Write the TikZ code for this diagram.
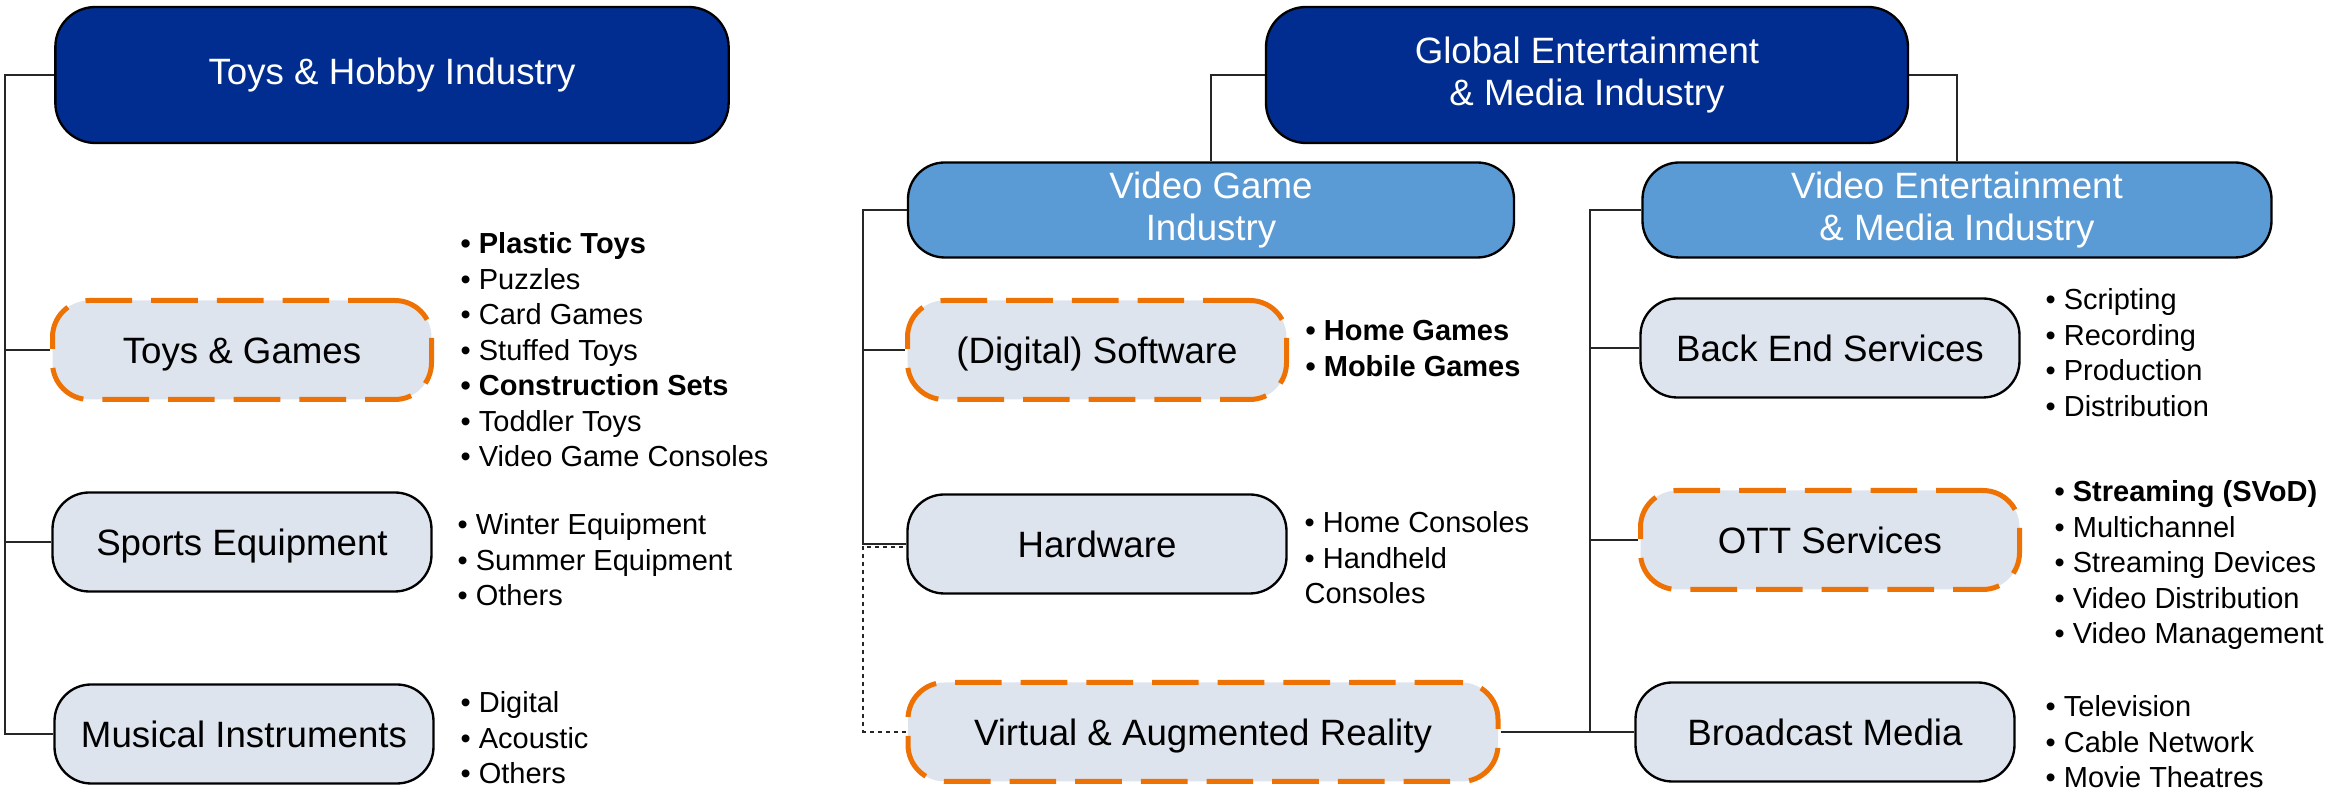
\documentclass[tikz,border=0pt]{standalone}
\usepackage{fontspec}
\setmainfont{Liberation Sans}
\definecolor{navyblue}{HTML}{002D8F}
\definecolor{skyblue}{HTML}{5B9BD5}
\definecolor{paleblue}{HTML}{DEE4EE}
\definecolor{hotorange}{HTML}{EE7203}
\newcommand\boxfont{\fontsize{11}{12.6}\selectfont}
\newcommand\listfont{\fontsize{8.7}{10.65}\selectfont}
\tikzset{
  topbox/.style={draw=black, line width=0.7pt, fill=navyblue, text=white, rounded corners=12pt,
    minimum height=40.8pt, inner sep=0pt, align=center, font=\boxfont},
  midbox/.style={topbox, fill=skyblue, minimum height=28.5pt, rounded corners=11pt},
  catbox/.style={draw=black, line width=0.7pt, fill=paleblue, text=black, rounded corners=11pt,
    minimum width=113.7pt, minimum height=29.7pt, inner sep=0pt, text height=10pt, text depth=2.1pt,
    font=\boxfont},
  hotbox/.style={catbox, draw=hotorange, line width=1.5pt, dash pattern=on 14pt off 5.7pt},
  items/.style={anchor=north west, align=left, inner sep=0pt, font=\listfont},
  link/.style={draw=black!85, line width=0.5pt}
}
\begin{document}
\begin{tikzpicture}[x=0.3pt,y=-0.3pt]
	\useasboundingbox (0,0) rectangle (2330,793);
	% industries
	\node[topbox, minimum width=202pt] (hobby) at (392,75) {Toys \& Hobby Industry};
	\node[topbox, minimum width=192.6pt] (global) at (1587,75) {Global Entertainment\\\& Media Industry};
	\node[midbox, minimum width=181.8pt] (vgame) at (1211,210) {Video Game\\Industry};
	\node[midbox, minimum width=188.7pt] (vent) at (1957,210) {Video Entertainment\\\& Media Industry};
	% segments
	\node[hotbox] (toysgames) at (242,350) {Toys \& Games};
	\node[catbox] (sports) at (242,542) {Sports Equipment};
	\node[catbox] (musical) at (244,734) {Musical Instruments};
	\node[hotbox] (software) at (1097,350) {(Digital) Software};
	\node[catbox] (hardware) at (1097,544) {Hardware};
	\node[hotbox, minimum width=177pt] (vr) at (1203,732) {Virtual \& Augmented Reality};
	\node[catbox] (backend) at (1830,348) {Back End Services};
	\node[hotbox] (ott) at (1830,540) {OTT Services};
	\node[catbox] (broadcast) at (1825,732) {Broadcast Media};
	% sub-segments
	\node[items] (toyslist) at (460,232) {\textbf{\textbullet~Plastic Toys}\\\textbullet~Puzzles\\\textbullet~Card Games\\\textbullet~Stuffed Toys\\\textbf{\textbullet~Construction Sets}\\\textbullet~Toddler Toys\\\textbullet~Video Game Consoles};
	\node[items] (sportslist) at (457,513) {\textbullet~Winter Equipment\\\textbullet~Summer Equipment\\\textbullet~Others};
	\node[items] (musicallist) at (460,691) {\textbullet~Digital\\\textbullet~Acoustic\\\textbullet~Others};
	\node[items] (softlist) at (1305,320) {\textbf{\textbullet~Home Games}\\\textbf{\textbullet~Mobile Games}};
	\node[items] (hardlist) at (1304,511) {\textbullet~Home Consoles\\\textbullet~Handheld\\Consoles};
	\node[items] (backlist) at (2045,288) {\textbullet~Scripting\\\textbullet~Recording\\\textbullet~Production\\\textbullet~Distribution};
	\node[items] (ottlist) at (2054,480) {\textbf{\textbullet~Streaming (SVoD)}\\\textbullet~Multichannel\\\textbullet~Streaming Devices\\\textbullet~Video Distribution\\\textbullet~Video Management};
	\node[items] (broadlist) at (2045,695) {\textbullet~Television\\\textbullet~Cable Network\\\textbullet~Movie Theatres};
	% connectors
	\coordinate (lspine) at (5,75);
	\draw[link] (hobby.west) -- (lspine) |- (musical.west);
	\draw[link] (lspine) |- (toysgames.west);
	\draw[link] (lspine) |- (sports.west);
	\draw[link] (global.west) -| (vgame.north);
	\draw[link] (global.east) -| (vent.north);
	\coordinate (vspine) at (863,210);
	\draw[link] (vgame.west) -- (vspine) |- (hardware.west);
	\draw[link] (vspine) |- (software.west);
	\coordinate (hwjoin) at (863,547);
	\draw[link, dash pattern=on 1.2pt off 1.2pt] (vr.west) -| (hwjoin) -- (hardware.west |- hwjoin);
	\coordinate (espine) at (1590,210);
	\draw[link] (vent.west) -- (espine) |- (broadcast.west);
	\draw[link] (espine) |- (backend.west);
	\draw[link] (espine) |- (ott.west);
	\draw[link] (vr.east) -- (broadcast.west);
\end{tikzpicture}
\end{document}
